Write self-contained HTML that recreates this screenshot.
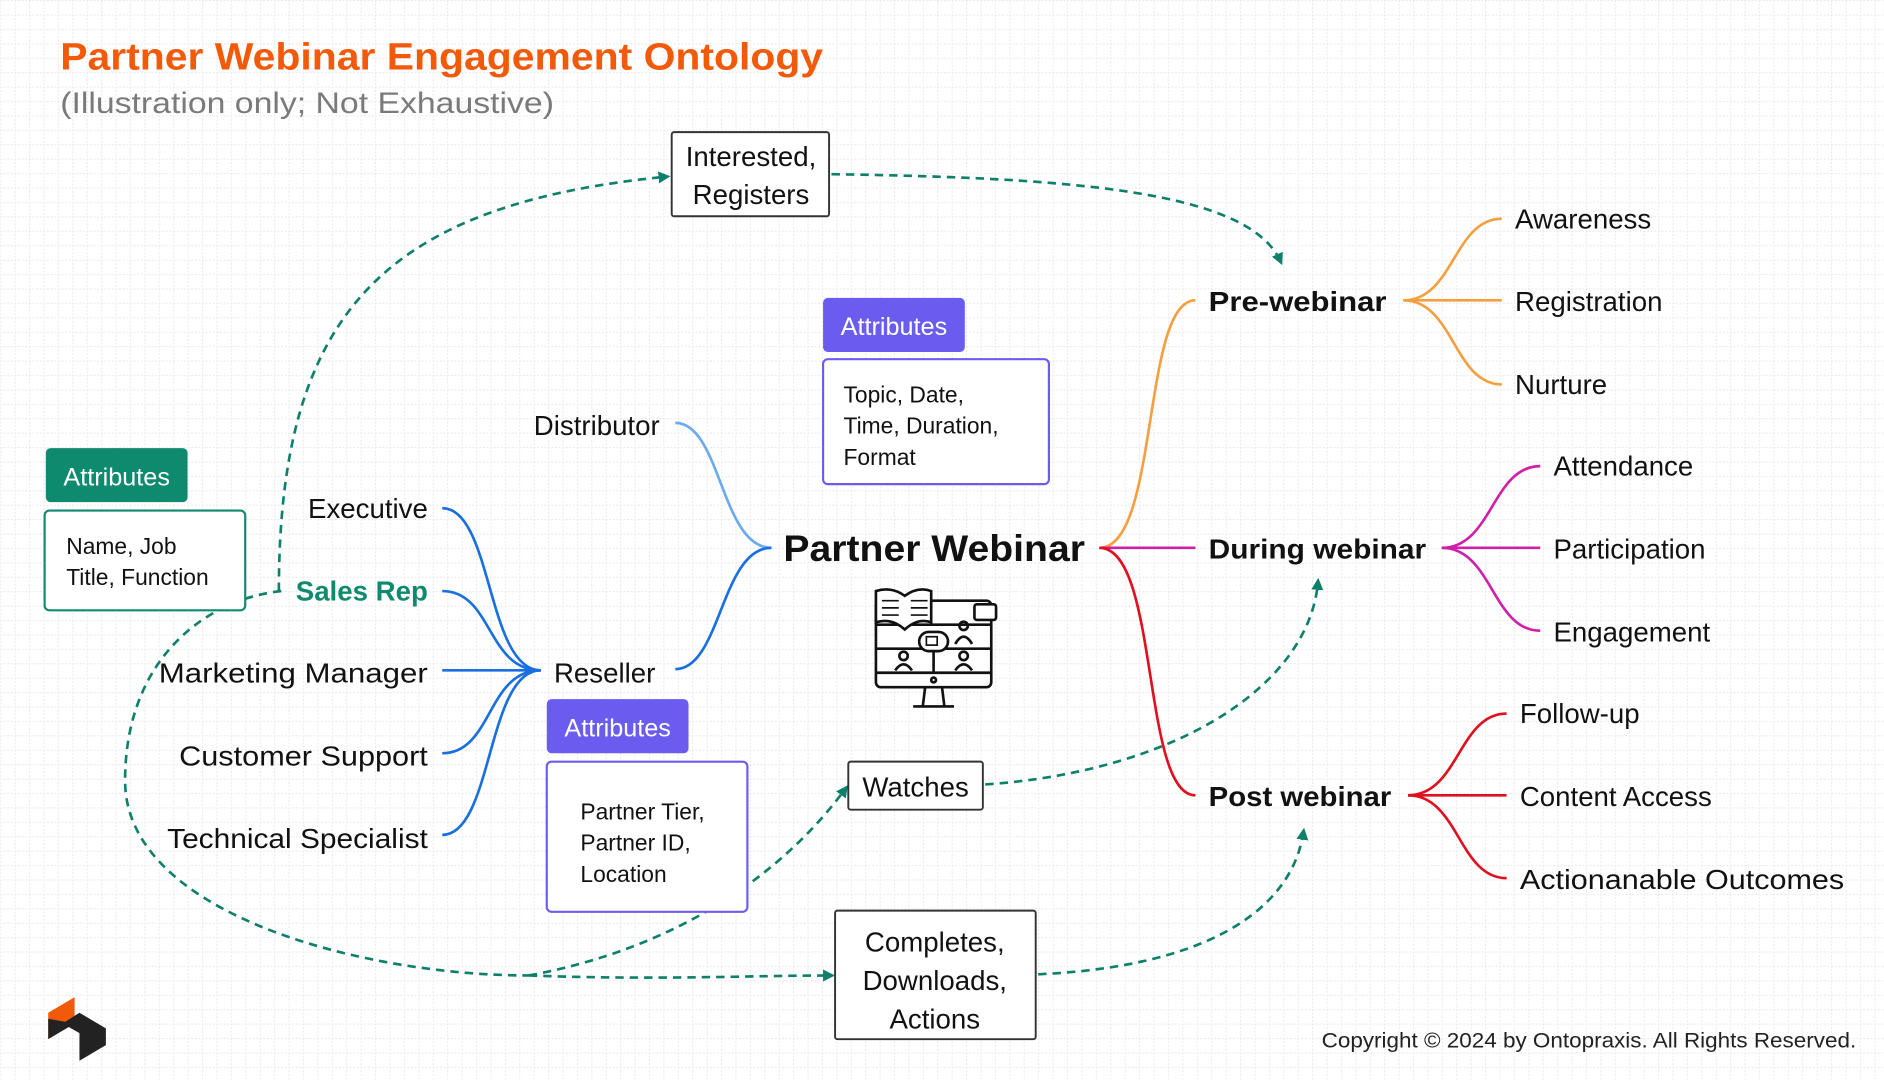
<!DOCTYPE html>
<html><head><meta charset="utf-8"><style>
html,body{margin:0;padding:0;background:#fff;}
svg{display:block;font-family:"Liberation Sans",sans-serif;}
</style></head><body>
<svg width="1884" height="1080" viewBox="0 0 1568 899" xmlns="http://www.w3.org/2000/svg">
<defs>
<pattern id="g" width="12" height="12" patternUnits="userSpaceOnUse">
<path d="M0 0.5H12M0.5 0V12" stroke="#e6e6e6" stroke-width="0.8" stroke-dasharray="1.5 1.5" fill="none"/>
</pattern>
<marker id="a" markerWidth="10" markerHeight="10" refX="7" refY="5" orient="auto" markerUnits="userSpaceOnUse">
<path d="M0,0 L10,5 L0,10 Z" fill="#0e7f6a"/>
</marker>
</defs>
<rect width="1568" height="899" fill="#fff"/>
<rect width="1568" height="899" fill="url(#g)"/>

<text x="50" y="58" font-size="32" font-weight="bold" fill="#f25a0a" textLength="635" lengthAdjust="spacingAndGlyphs">Partner Webinar Engagement Ontology</text>
<text x="50" y="94" font-size="25" fill="#7a7a7a" textLength="411" lengthAdjust="spacingAndGlyphs">(Illustration only; Not Exhaustive)</text>

<g fill="none" stroke="#0e7f6a" stroke-width="2.2" stroke-dasharray="7 5">
<path d="M232,492 C232,260 320,170 555,147" marker-end="url(#a)"/>
<path d="M692,145 C900,148 1040,160 1066,218" marker-end="url(#a)"/>
<path d="M234,492 C175,498 104,545 104,650 C104,760 300,812 440,812"/>
<path d="M440,812 C560,790 650,730 704,656" marker-end="url(#a)"/>
<path d="M440,812 C550,816 620,812 692,812" marker-end="url(#a)"/>
<path d="M820,653 C980,642 1090,570 1097,484" marker-end="url(#a)"/>
<path d="M864,811 C1000,805 1075,760 1085,692" marker-end="url(#a)"/>
</g>

<g fill="none" stroke-width="2.2">
<path d="M562,352 C600,352 600,456 642,456" stroke="#6aaaf0"/>
<path d="M562,557 C600,557 600,456 642,456" stroke="#1a6fe0"/>
<g stroke="#1a6fe0">
<path d="M368,423 C410,423 405,558 450,558"/>
<path d="M368,492 C410,492 405,558 450,558"/>
<path d="M368,558 L450,558"/>
<path d="M368,627 C410,627 405,558 450,558"/>
<path d="M368,695 C410,695 405,558 450,558"/>
</g>
<path d="M915,456 C965,456 950,250 995,250" stroke="#f5a040"/>
<path d="M915,456 L995,456" stroke="#d020a8"/>
<path d="M915,456 C965,456 950,662 995,662" stroke="#e0101e"/>
<g stroke="#f5a040">
<path d="M1168,250 C1210,250 1210,182 1250,182"/>
<path d="M1168,250 L1250,250"/>
<path d="M1168,250 C1210,250 1210,320 1250,320"/>
</g>
<g stroke="#d020a8">
<path d="M1200,456 C1242,456 1242,388 1282,388"/>
<path d="M1200,456 L1282,456"/>
<path d="M1200,456 C1242,456 1242,525 1282,525"/>
</g>
<g stroke="#e0101e">
<path d="M1172,662 C1214,662 1214,594 1254,594"/>
<path d="M1172,662 L1254,662"/>
<path d="M1172,662 C1214,662 1214,731 1254,731"/>
</g>
</g>

<g fill="#fff" stroke="#333" stroke-width="1.6">
<rect x="559" y="110" width="131" height="70" rx="2"/>
<rect x="706" y="634" width="112" height="40" rx="2"/>
<rect x="695" y="758" width="167" height="107" rx="2"/>
</g>
<g font-size="23" fill="#111" text-anchor="middle">
<text x="625" y="138">Interested,</text>
<text x="625" y="170">Registers</text>
<text x="762" y="663">Watches</text>
<text x="778" y="792">Completes,</text>
<text x="778" y="824">Downloads,</text>
<text x="778" y="856">Actions</text>
</g>

<rect x="38" y="373" width="118" height="45" rx="4" fill="#0e8a6e"/>
<text x="97" y="404" font-size="21" fill="#fff" text-anchor="middle">Attributes</text>
<rect x="37" y="425" width="167" height="83" rx="4" fill="#fff" stroke="#0e8a6e" stroke-width="1.8"/>
<text font-size="19" fill="#111"><tspan x="55" y="461">Name, Job</tspan><tspan x="55" y="487">Title, Function</tspan></text>

<rect x="685" y="248" width="118" height="45" rx="4" fill="#6b5cf0"/>
<text x="744" y="279" font-size="21" fill="#fff" text-anchor="middle">Attributes</text>
<rect x="685" y="299" width="188" height="104" rx="4" fill="#fff" stroke="#6b5cf0" stroke-width="1.8"/>
<text font-size="19" fill="#111"><tspan x="702" y="335">Topic, Date,</tspan><tspan x="702" y="361">Time, Duration,</tspan><tspan x="702" y="387">Format</tspan></text>

<rect x="455" y="582" width="118" height="45" rx="4" fill="#6b5cf0"/>
<text x="514" y="613" font-size="21" fill="#fff" text-anchor="middle">Attributes</text>
<rect x="455" y="634" width="167" height="125" rx="4" fill="#fff" stroke="#6b5cf0" stroke-width="1.8"/>
<text font-size="19" fill="#111"><tspan x="483" y="682">Partner Tier,</tspan><tspan x="483" y="708">Partner ID,</tspan><tspan x="483" y="734">Location</tspan></text>

<g font-size="23" fill="#111">
<text x="549" y="362" text-anchor="end">Distributor</text>
<text x="461" y="568">Reseller</text>
<text x="356" y="431" text-anchor="end">Executive</text>
<text x="356" y="500" text-anchor="end" fill="#0e8a6e" font-weight="bold">Sales Rep</text>
<text x="356" y="568" text-anchor="end" textLength="224" lengthAdjust="spacingAndGlyphs">Marketing Manager</text>
<text x="356" y="637" text-anchor="end" textLength="207" lengthAdjust="spacingAndGlyphs">Customer Support</text>
<text x="356" y="706" text-anchor="end" textLength="217" lengthAdjust="spacingAndGlyphs">Technical Specialist</text>
<text x="1261" y="190">Awareness</text>
<text x="1261" y="259">Registration</text>
<text x="1261" y="328">Nurture</text>
<text x="1293" y="396">Attendance</text>
<text x="1293" y="465">Participation</text>
<text x="1293" y="534">Engagement</text>
<text x="1265" y="602">Follow-up</text>
<text x="1265" y="671">Content Access</text>
<text x="1265" y="740" textLength="270" lengthAdjust="spacingAndGlyphs">Actionanable Outcomes</text>
</g>
<g font-size="23" fill="#111" font-weight="bold">
<text x="1006" y="259" textLength="148" lengthAdjust="spacingAndGlyphs">Pre-webinar</text>
<text x="1006" y="465" textLength="181" lengthAdjust="spacingAndGlyphs">During webinar</text>
<text x="1006" y="671" textLength="152" lengthAdjust="spacingAndGlyphs">Post webinar</text>
</g>
<text x="652" y="467" font-size="31" font-weight="bold" fill="#111" textLength="251" lengthAdjust="spacingAndGlyphs">Partner Webinar</text>

<g fill="none" stroke="#111" stroke-width="2.2">
<rect x="729" y="500" width="96" height="72" rx="4" fill="#fff"/>
<line x1="729" y1="560" x2="825" y2="560"/>
<line x1="729" y1="540" x2="825" y2="540"/>
<line x1="729" y1="520" x2="825" y2="520"/>
<circle cx="777" cy="566" r="2"/>
<path d="M770,572 L768,588 M784,572 L786,588 M760,588 L794,588"/>
<path d="M729,492 Q742,488 753,496 Q764,488 775,492 L775,518 Q764,514 753,524 Q742,514 729,518 Z" fill="#fff"/>
<path d="M734,500h14M734,506h14M734,512h14M758,500h14M758,506h14M758,512h14" stroke-width="1.4"/>
<rect x="811" y="503" width="18" height="13" rx="2" fill="#fff"/>
<rect x="765" y="526" width="24" height="16" rx="8" fill="#fff"/>
<rect x="771" y="530" width="9" height="7" stroke-width="1.4"/>
<line x1="777" y1="542" x2="777" y2="560"/>
<circle cx="802" cy="521" r="3.5"/><path d="M795,536 Q802,524 809,536"/>
<circle cx="752" cy="546" r="3.5"/><path d="M745,558 Q752,548 759,558"/>
<circle cx="802" cy="546" r="3.5"/><path d="M795,558 Q802,548 809,558"/>
</g>

<path d="M40,843 L62,830 L62,852 L40,865 Z" fill="#f25a0a"/>
<path d="M66,843 L88,856 L88,870 L66,883 L66,860 L52,852 Z" fill="#222"/>
<path d="M40,865 L40,848 L62,852 Z" fill="#222"/>

<text x="1545" y="872" font-size="18" fill="#222" text-anchor="end" textLength="445" lengthAdjust="spacingAndGlyphs">Copyright © 2024 by Ontopraxis. All Rights Reserved.</text>
</svg>
</body></html>
